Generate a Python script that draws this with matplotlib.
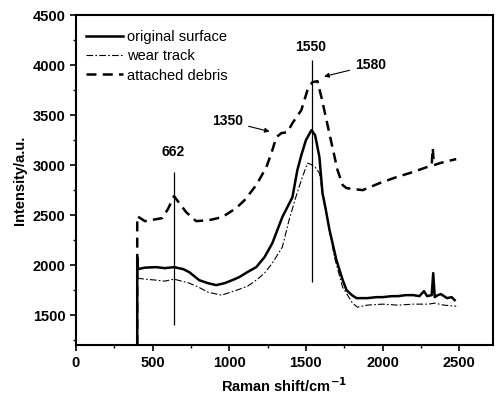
import numpy as np
import matplotlib
matplotlib.use('Agg')
import matplotlib.pyplot as plt
from matplotlib.ticker import MultipleLocator

plt.rcParams['font.family'] = ['Liberation Sans', 'DejaVu Sans']

# Данные
orig_x = [400, 400, 405, 450, 523, 580, 640, 700, 739, 804, 860, 915, 970, 1020, 1065, 1118,
          1176, 1230, 1281, 1346, 1412, 1444, 1470, 1500, 1536, 1560, 1588, 1608, 1630, 1654,
          1699, 1740, 1765, 1800, 1830, 1900, 1960, 2000, 2060, 2100, 2150, 2200, 2240, 2270,
          2290, 2320, 2330, 2340, 2360, 2380, 2420, 2450, 2470]
orig_y = [1200, 2080, 1960, 1975, 1980, 1970, 1980, 1960, 1930, 1850, 1820, 1800, 1820, 1850,
          1880, 1930, 1980, 2080, 2220, 2480, 2680, 2950, 3100, 3250, 3350, 3300, 3080, 2720,
          2550, 2350, 2050, 1850, 1750, 1700, 1670, 1670, 1680, 1680, 1690, 1690, 1700, 1700,
          1690, 1740, 1690, 1700, 1920, 1680, 1700, 1710, 1670, 1680, 1650]

wear_x = [400, 450, 523, 580, 640, 739, 800, 860, 950, 1050, 1120, 1176, 1230, 1281, 1346,
          1390, 1434, 1470, 1510, 1530, 1560, 1588, 1608, 1621, 1641, 1686, 1739, 1804, 1836,
          1900, 2000, 2100, 2200, 2300, 2340, 2400, 2480]
wear_y = [1870, 1860, 1850, 1840, 1860, 1820, 1780, 1730, 1700, 1750, 1790, 1850, 1920, 2020,
          2180, 2450, 2680, 2850, 3020, 3010, 2980, 2920, 2720, 2650, 2450, 2080, 1780, 1620,
          1580, 1600, 1610, 1600, 1610, 1610, 1620, 1600, 1590]

debris_x = [400, 400, 450, 562, 600, 640, 719, 784, 869, 954, 1045, 1100, 1176, 1242, 1275,
            1307, 1340, 1379, 1412, 1470, 1510, 1542, 1575, 1601, 1634, 1667, 1706, 1740, 1765,
            1870, 1980, 2090, 2196, 2288, 2320, 2327, 2335, 2373, 2451, 2480]
debris_y = [1200, 2490, 2440, 2470, 2560, 2690, 2530, 2440, 2450, 2480, 2570, 2650, 2800, 2980,
            3120, 3280, 3320, 3330, 3420, 3550, 3750, 3830, 3840, 3680, 3450, 3220, 2950, 2800,
            2770, 2750, 2820, 2880, 2930, 2980, 3000, 3170, 3000, 3020, 3050, 3060]

# Пометки пиков
peak_662 = (640, 1400, 2930)
peak_1550 = (1537, 1830, 4050)

fig = plt.figure(figsize=(4.96, 3.99), dpi=100)
ax = fig.add_axes([0.153, 0.135, 0.841, 0.827])

ax.plot(orig_x, orig_y, color='black', lw=1.8, label='original surface')
ax.plot(wear_x, wear_y, color='black', lw=0.8, dashes=(6, 2, 1.5, 2), label='wear track')
ax.plot(debris_x, debris_y, color='black', lw=1.8, dashes=(4, 2.5), label='attached debris')

ax.vlines(peak_662[0], peak_662[1], peak_662[2], color='black', lw=0.9)
ax.vlines(peak_1550[0], peak_1550[1], peak_1550[2], color='black', lw=0.9)

ax.text(634, 3130, '662', ha='center', va='center', fontsize=10, fontweight='bold')
ax.text(1530, 4180, '1550', ha='center', va='center', fontsize=10, fontweight='bold')
ax.annotate('1580', xy=(1601, 3880), xytext=(1820, 4000), ha='left', va='center',
            fontsize=10, fontweight='bold',
            arrowprops=dict(arrowstyle='-|>', color='black', lw=0.8, mutation_scale=7))
ax.annotate('1350', xy=(1281, 3330), xytext=(1090, 3440), ha='right', va='center',
            fontsize=10, fontweight='bold',
            arrowprops=dict(arrowstyle='-|>', color='black', lw=0.8, mutation_scale=7))

ax.set_xlim(0, 2720)
ax.set_ylim(1200, 4500)
ax.xaxis.set_major_locator(MultipleLocator(500))
ax.xaxis.set_minor_locator(MultipleLocator(250))
ax.yaxis.set_major_locator(MultipleLocator(500))
ax.yaxis.set_minor_locator(MultipleLocator(250))
ax.tick_params(which='major', direction='out', length=4, width=1.2, labelsize=10.5)
ax.tick_params(which='minor', direction='out', length=2.5, width=1)
for lbl in ax.get_xticklabels() + ax.get_yticklabels():
    lbl.set_fontweight('bold')
for sp in ax.spines.values():
    sp.set_linewidth(1.5)

ax.set_xlabel('Raman shift/cm$^{\\mathbf{-1}}$', fontsize=10.5, fontweight='bold', labelpad=5)
ax.set_ylabel('Intensity/a.u.', fontsize=10.5, fontweight='bold', labelpad=4)

ax.legend(loc='upper left', bbox_to_anchor=(0.0, 0.985), frameon=False, fontsize=10.5,
          handlelength=2.5, handletextpad=0.3, labelspacing=0.35, borderaxespad=0.3)

fig.savefig('out.png', dpi=100)
